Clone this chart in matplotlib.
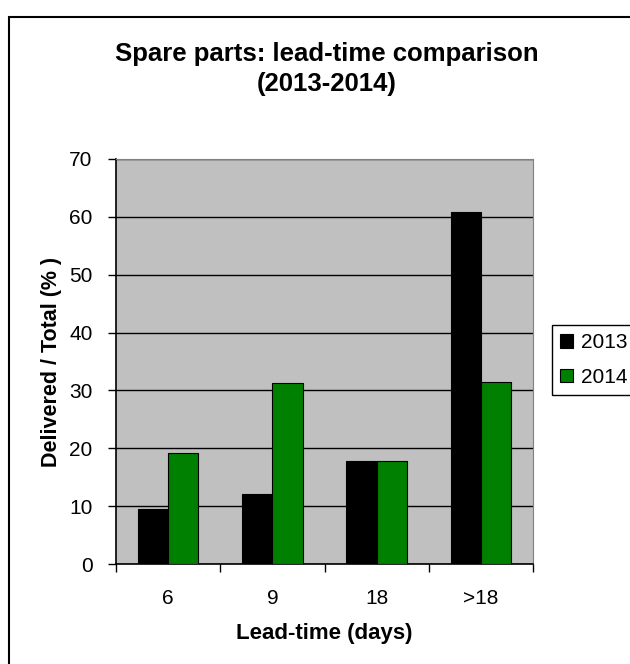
import matplotlib.pyplot as plt
import matplotlib.patches as patches
import numpy as np

plt.rcParams['font.family'] = ['Liberation Sans', 'DejaVu Sans']

# data
categories = ["6", "9", "18", ">18"]
series_names = ["2013", "2014"]
values_2013 = [9.5, 12.1, 17.8, 60.9]
values_2014 = [19.2, 31.2, 17.8, 31.5]
colors = ["#000000", "#008000"]

fig = plt.figure(figsize=(6.3, 6.64), dpi=100)
ax = fig.add_axes([116 / 630, 1 - 564 / 664, (533 - 116) / 630, (564 - 159) / 664])

x = np.arange(len(categories))
w = 0.29
ax.bar(x - w / 2, values_2013, w, color=colors[0], edgecolor="black", linewidth=0.8,
       label=series_names[0], zorder=3)
ax.bar(x + w / 2, values_2014, w, color=colors[1], edgecolor="black", linewidth=0.8,
       label=series_names[1], zorder=3)

ax.set_facecolor("#C0C0C0")
ax.set_xlim(-0.5, 3.5)
ax.set_ylim(0, 70)
ax.set_yticks(np.arange(0, 71, 10))
ax.yaxis.grid(True, color="black", linewidth=1.0, zorder=1)
ax.set_axisbelow(True)

# category ticks between groups, labels centred under groups
ax.set_xticks(np.arange(-0.5, 4, 1))
ax.set_xticklabels([])
ax.set_xticks(x, minor=True)
ax.set_xticklabels(categories, minor=True)
ax.tick_params(axis="x", which="major", length=6, width=1, direction="out")
ax.tick_params(axis="x", which="minor", length=0, pad=18, labelsize=15)
ax.tick_params(axis="y", length=6, width=1, direction="out", pad=11, labelsize=15)

for s in ["top", "right"]:
    ax.spines[s].set_color("#808080")
for s in ["left", "bottom"]:
    ax.spines[s].set_color("black")
    ax.spines[s].set_linewidth(1.2)

ax.set_xlabel("Lead-time (days)", fontsize=16, fontweight="bold", labelpad=11)
ax.set_ylabel("Delivered / Total (% )", fontsize=15.5, fontweight="bold", labelpad=5)

fig.text(327 / 630, 1 - 69 / 664, "Spare parts: lead-time comparison\n(2013-2014)",
         ha="center", va="center", fontsize=18.5, fontweight="bold", linespacing=1.35)

fig.legend(loc="upper left", bbox_to_anchor=(552 / 630, 1 - 325 / 664), fontsize=15,
           frameon=True, fancybox=False, edgecolor="black", framealpha=1,
           handlelength=0.6, handleheight=0.6, handletextpad=0.4, borderpad=0.4,
           borderaxespad=0, labelspacing=0.75)

# outer chart border, runs off the right and bottom edges
fig.patches.append(patches.Rectangle((9 / 630, -0.05), 1.0, 1 - 17 / 664 + 0.05,
                                     transform=fig.transFigure, fill=False,
                                     edgecolor="black", linewidth=1.5))

fig.savefig("out.png", dpi=100)
